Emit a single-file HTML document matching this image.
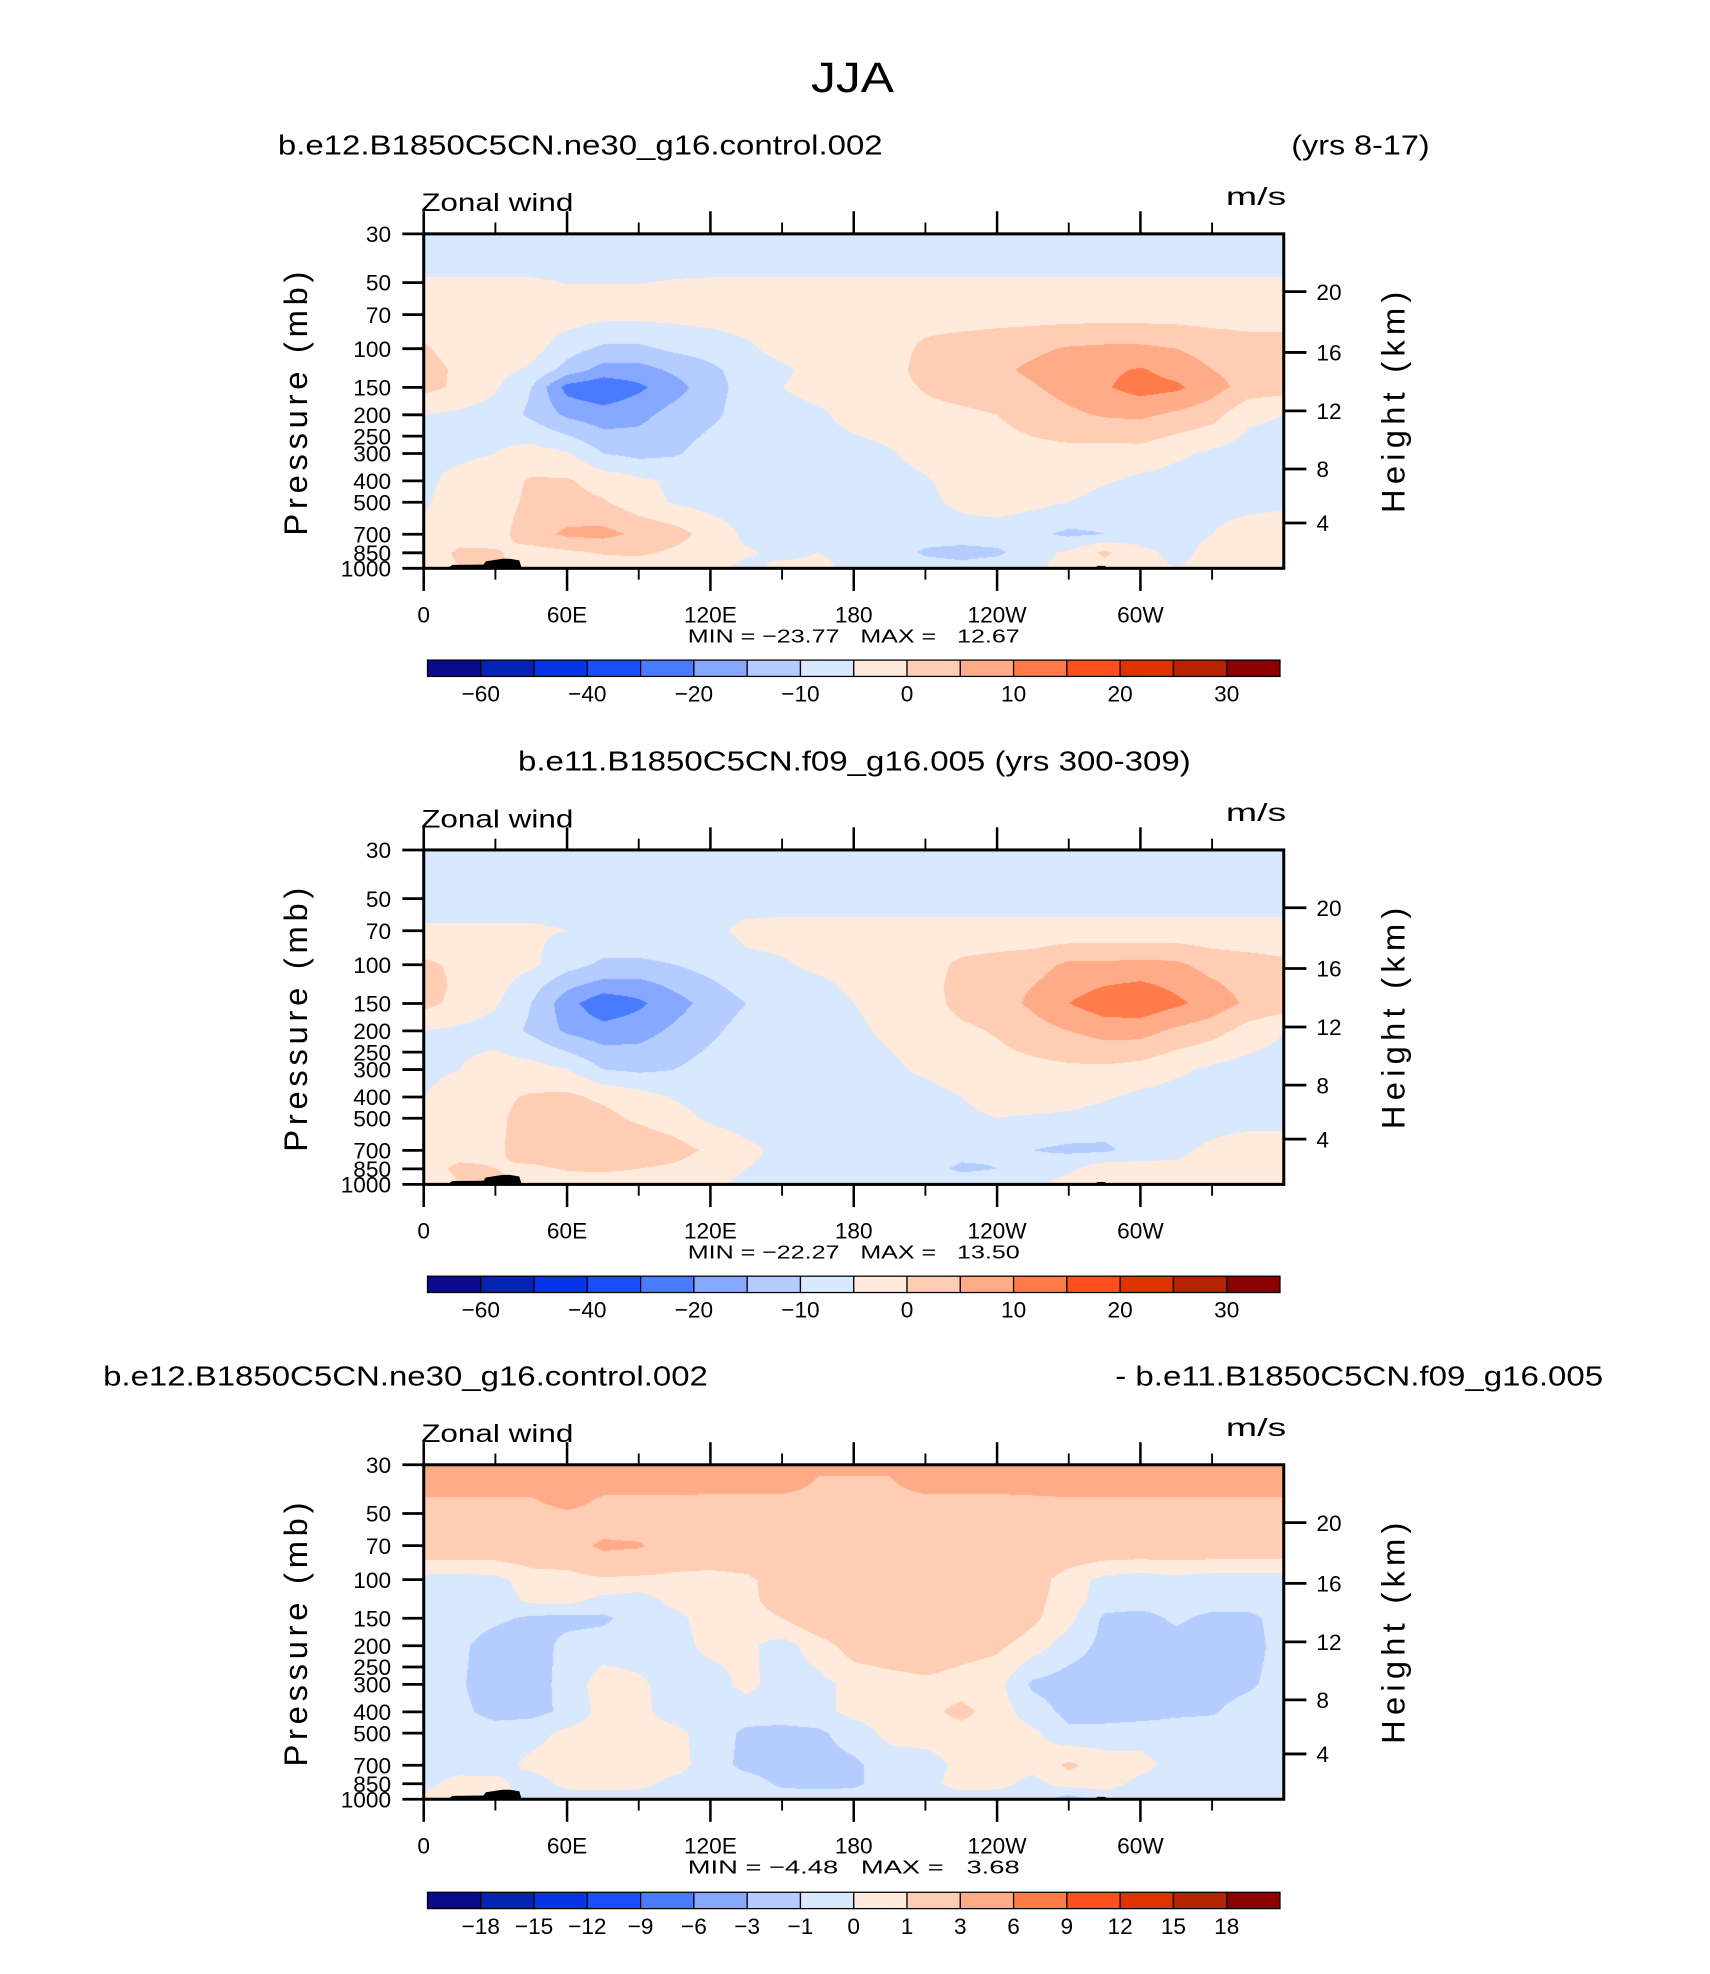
<!DOCTYPE html>
<html><head><meta charset="utf-8">
<style>
html,body{margin:0;padding:0;background:#fff;}
#root{position:relative;width:1710px;height:1974px;background:#fff;overflow:hidden;}
canvas{position:absolute;}
svg{position:absolute;left:0;top:0;}
text{font-family:"Liberation Sans",sans-serif;fill:#000;}
.tk{font-family:"Liberation Sans",sans-serif;font-size:18px;}
</style></head>
<body>
<div id="root">
<svg id="svg" width="1710" height="1974" viewBox="0 0 1360 1570" preserveAspectRatio="none">
<text x="678" y="73" text-anchor="middle" font-size="34" textLength="66" lengthAdjust="spacingAndGlyphs">JJA</text>
<text x="221" y="123" font-size="22" textLength="481" lengthAdjust="spacingAndGlyphs">b.e12.B1850C5CN.ne30_g16.control.002</text>
<text x="1027" y="123" font-size="22" textLength="110" lengthAdjust="spacingAndGlyphs">(yrs 8-17)</text>
<text x="412" y="613" font-size="22" textLength="535" lengthAdjust="spacingAndGlyphs">b.e11.B1850C5CN.f09_g16.005 (yrs 300-309)</text>
<text x="82" y="1102" font-size="22" textLength="481" lengthAdjust="spacingAndGlyphs">b.e12.B1850C5CN.ne30_g16.control.002</text>
<text x="887" y="1102" font-size="22" textLength="388" lengthAdjust="spacingAndGlyphs">- b.e11.B1850C5CN.f09_g16.005</text>
</svg>
</div>
<script>
// ---------- data ----------
const PLEV=[30,45,55,70,100,125,150,200,300,400,500,700,850,1000];
const LONS=[0,15,30,45,60,75,90,105,120,135,150,165,180,195,210,225,240,255,270,285,300,315,330,345,360];
const ctlWind=[
[-8,-8,-8,-8,-8,-8,-8,-8,-8,-8,-8,-8,-8,-8,-8,-8,-8,-8,-8,-8,-8,-8,-8,-8,-8],
[-6,-6,-6,-6,-6.5,-6.5,-6.5,-6,-6,-6,-6,-6,-6,-6,-6,-6,-6,-6,-6,-6,-6,-6,-6,-6,-6],
[-2,-2,-2,-2,-4,-4,-4,-3,-2,-2,-2,-2,-2,-2,-2,-2,-2,-2,-2,-2,-2,-2,-2,-2,-2],
[-2,-2,-2,-2,-2.5,-3.5,-3.5,-3.5,-3,-2.5,-2,-2,-2,-2,-2,-2,-2,-2,-2,-2,-2,-2,-2,-2,-2],
[0.5,-2,-2,-3,-8,-11,-11,-9,-8,-6,-3,-2,-2,-2,1,2,3,4,5.5,6,6,5,3,2,2],
[2,-1,-3,-6,-12,-17,-17,-14,-11,-8,-6,-3,-2,-2,2,3,4,6,8,9,10.5,8,5,3,3],
[1.5,-1,-4.5,-10,-22,-24,-21,-17,-12,-8,-5,-3,-2,-2,0.5,2,3,4.5,7,9.5,12,11,7,3,2],
[-5,-6,-7,-11,-16,-18,-16.5,-13,-11,-8,-7,-6,-3,-2,-1.5,-1,0,2,4,5.5,6,4,2,-4,-5],
[-6,-6,-5,-3,-4.5,-10,-11.5,-10.5,-8,-7,-7,-7,-7,-5.5,-3,-2,-2,-1.5,-1.5,-2,-2,-4,-6,-7,-7],
[-6,-3.5,-2,0.5,0.5,-2,-4,-6,-7,-7,-7,-7,-7,-7,-5.5,-3,-2,-2,-2.5,-4.5,-6,-7,-7,-7,-7],
[-5.5,-3,-2,1,1.5,0.5,-3,-5.5,-7,-7,-7,-7,-7,-7,-6,-4,-3,-3.5,-5,-7,-7,-7,-7,-7,-6],
[-4,-3,-2,3,6,6.5,4,2,-2,-6,-7,-7,-7,-7,-7,-7,-7,-9,-11,-10,-7,-6,-5,-2,-2],
[-3,1,0.5,-2,-1,0.5,1,-1,-3,-4.5,-6,-5,-6,-7,-11,-12,-11,-7,-4,1,-4,-6,-4,-2,-2],
[-3,0,1,-2,-3,-3,-3,-4,-4,-6,-4,-4,-6,-7,-7,-8,-7,-6,-3,-2,-4,-5,-4,-3,-3]];
const cmpWind=[
[-8,-8,-8,-8,-8,-8,-8,-8,-8,-8,-8,-8,-8,-8,-8,-8,-8,-8,-8,-8,-8,-8,-8,-8,-8],
[-7,-7,-7,-7,-7,-7,-7,-7,-7,-7,-7,-7,-7,-7,-7,-7,-7,-7,-7,-7,-7,-7,-7,-7,-7],
[-6,-6,-6,-6,-6,-6,-6,-6,-6,-6,-6,-6,-6,-6,-6,-6,-6,-6,-6,-6,-6,-6,-6,-6,-6],
[-4.5,-4.5,-4.5,-4.5,-5,-6,-6,-6,-6,-4,-3.5,-3.5,-3.5,-3.5,-3.5,-3.5,-3.5,-3.5,-3.5,-3.5,-3.5,-3.5,-3.5,-3.5,-3.5],
[1,-1,-2.5,-4,-8,-11,-11,-10,-8,-6,-5.5,-4,-4,-3,-2,1,2,3,6,6,6.5,6,3,2,1],
[2,-1,-3,-8,-14,-17,-17,-14,-11,-8,-7,-6,-4,-3,-2,2,3,5,8,10,11,9,6,3,2],
[1.5,-1.5,-4.5,-10,-18,-24,-21,-17,-13,-10,-8,-7,-5,-3,-2,1.5,3,6,10,13,13.5,11,8,4,3],
[-5,-6,-7,-11,-16,-18,-17,-14,-11,-8,-7,-7,-6,-4,-2,-1,0.5,3,5,7,7,4,2,-2,-5],
[-6,-5,-3,-3,-5,-10,-11,-10,-8,-7,-7,-7,-7,-6,-4,-2,-2,-1.5,-1,-1,-2,-4,-6,-7,-7],
[-5,-3,-1,0.5,1,-1,-3,-5.5,-7,-7,-7,-7,-7,-7,-7,-5,-3,-2.5,-3,-4.5,-6,-7,-7,-7,-7],
[-4,-2,-1,2,2.5,1.5,-1,-3,-6,-7,-7,-7,-7,-7,-7,-6,-5,-5.5,-6,-7,-7,-7,-7,-7,-7],
[-3,-2,-1,3,4.5,3,4,2,-1,-4,-6,-7,-7,-7,-7,-8,-9,-10,-11,-11,-8,-6,-4,-2,-2],
[-2,1,0,-1,0.5,1,0,-1,-3,-5,-6,-7,-7,-7,-8,-11,-10,-8,-6,-2,-3,-4,-3,-2,-2],
[-3,0,1,-2,-3,-3,-3,-3,-4,-6,-5,-5,-6,-7,-7,-7,-7,-6,-3,-1,-3,-4,-4,-3,-3]];
const diffWind=[
[4.5,4.5,4.5,4.5,4.5,4.5,4.5,4.5,4.5,4.5,4.5,3.2,3.2,3.2,4.5,4.5,4.5,4.5,4.5,4.5,4.5,4.5,4.5,4.5,4.5],
[2.7,2.7,2.7,2.7,3.5,2.6,2.6,2.6,2.5,2.5,2.5,2.5,2.5,2.5,2.5,2.5,2.5,2.6,2.7,2.7,2.7,2.7,2.7,2.7,2.7],
[2,2,2,2,2,2,2,2,2,2,2,2,2,2,2,2,2,2,2,2,2,2,2,2,2],
[2,2,2,2,2,3.4,3.2,2,2,2,2,2,2,2,2,2,2,2,2,2,2,2,2,2,2],
[-0.4,-0.4,-0.3,0.5,0.6,0.8,0.7,0.7,0.6,0.8,1.5,2,2,2,2,2,2,1.5,0.5,-0.3,-0.5,-0.3,-0.5,-0.5,-0.5],
[-0.5,-0.5,-0.5,0.2,0.3,-0.3,-0.5,0.3,0.5,0.7,1.5,2,2,2,2,2,2,1.3,0.5,-0.5,-0.5,-0.5,-0.5,-0.5,-0.5],
[-0.5,-0.5,-0.8,-1.2,-1.3,-1.2,-0.5,-0.3,0.5,0.5,1,2,2,2,2,2,2,1.2,0.3,-1.2,-1.4,-0.8,-1.3,-1.3,-0.5],
[-0.3,-0.8,-1.5,-1.5,-0.7,-0.5,-0.5,-0.4,0.3,0.2,-0.4,0.5,1.5,1.8,2,1.5,1.2,0.5,-0.5,-1.3,-1.5,-1.5,-1.6,-1.5,-0.5],
[-0.5,-0.9,-1.5,-1.5,-0.6,0.5,0.2,-0.5,-0.5,0.3,-0.5,-0.3,0.3,0.5,0.7,0.5,0.3,-1.2,-1.5,-1.5,-1.5,-1.5,-1.5,-1.2,-0.5],
[-0.5,-0.8,-1.3,-1.3,-0.8,0.4,0.3,-0.5,-0.5,-0.5,-0.5,-0.3,0.3,0.5,0.7,1.3,0.5,-0.5,-1.3,-1.5,-1.4,-1.2,-1.1,-0.5,-0.5],
[-0.5,-0.5,-0.6,-0.4,0.3,0.5,0.5,0.3,-0.5,-1.2,-1.3,-1.2,-0.5,0.3,0.5,0.6,0.5,0.2,-0.8,-0.6,-0.5,-0.5,-0.5,-0.5,-0.5],
[-0.5,-0.5,-0.5,0.3,0.5,0.5,0.5,0.4,-0.5,-1.3,-1.5,-1.4,-1.2,-0.5,-0.5,0.3,0.5,0.3,1.2,0.5,0.4,-0.5,-0.5,-0.5,-0.5],
[-0.3,0.4,0.3,-0.5,0.3,0.4,0.3,-0.3,-0.5,-0.5,-1.2,-1.3,-1.2,-0.5,-0.3,0.4,0.3,-0.3,0.5,0.4,-0.3,-0.5,-0.5,-0.5,-0.5],
[0.3,0.5,0.5,-0.5,-0.5,-0.5,-0.5,-0.5,-0.5,-0.5,-0.5,-0.5,-0.5,-0.5,-0.5,-0.5,-0.5,-0.5,-1.5,-0.5,-0.5,-0.5,-0.5,-0.5,-0.5]];
const levelsAbs=[-60,-50,-40,-30,-20,-15,-10,-5,0,5,10,15,20,25,30];
const levelsDiff=[-18,-15,-12,-9,-6,-3,-1,0,1,3,6,9,12,15,18];
const cbLabelsAbs=["\u221260","","\u221240","","\u221220","","\u221210","","0","","10","","20","","30"];
const cbLabelsDiff=["\u221218","\u221215","\u221212","\u22129","\u22126","\u22123","\u22121","0","1","3","6","9","12","15","18"];
const fillColors=['#0a0a8a','#0524b4','#0535e6','#1a4cff','#4a7bff','#86a8ff','#b4ccff','#d7e8ff','#ffeadb','#ffcdb4','#ffab87','#ff7b4a','#ff4f1e','#e03200','#b52400','#8b0000'];
const pTicks=[30,50,70,100,150,200,250,300,400,500,700,850,1000];
const heightKm=[4,8,12,16,20];
const heightP=[622,353,192,104,55];
const lonTicks=[0,60,120,180,240,300];
const lonLabels=["0","60E","120E","180","120W","60W"];
const lonMinor=[30,90,150,210,270,330];
const topoLonA=[10,12,25,26,33,36,40,41];
const topoPA=[1000,965,962,930,905,905,920,1000];
const topoLonB=[281,282,285,286,310,311];
const topoPB=[1000,975,975,990,990,1000];
const minVals=["\u221223.77","\u221222.27","\u22124.48"];
const maxVals=["12.67","13.50","3.68"];
// ---------- layout ----------
const S=1710/1360, X0=337, X1=1021, PH=266;
const KP=PH/Math.log(1000/30);
const panelTops=[186,676,1165];
const cbTops=[525,1015,1505];
function xOf(lon){return X0+lon/360*(X1-X0);}
function yOf(p,top){return top+KP*Math.log(p/30);}
const NS='http://www.w3.org/2000/svg';
const svg=document.getElementById('svg');
const root=document.getElementById('root');
function mk(tag,attrs){const e=document.createElementNS(NS,tag);for(const k in attrs)e.setAttribute(k,attrs[k]);svg.appendChild(e);return e;}
function idx(v,thr){let k=0;while(k<thr.length&&v>=thr[k])k++;return k;}
const lnP=PLEV.map(p=>Math.log(p));
function hex(c){return [parseInt(c.substr(1,2),16),parseInt(c.substr(3,2),16),parseInt(c.substr(5,2),16)];}
const rgb=fillColors.map(hex);

function drawField(field,thr,top,pi){
  const cv=document.createElement('canvas');
  
  
  const W=Math.round((X1-X0)*S), H=Math.round(PH*S);
  cv.width=W;cv.height=H;
  cv.style.left=(X0*S)+'px';cv.style.top=(top*S)+'px';
  cv.style.width=W+'px';cv.style.height=H+'px';
  root.insertBefore(cv,svg);
  const ctx=cv.getContext('2d');
  const img=ctx.createImageData(W,H);
  const nL=LONS.length;
  for(let py=0;py<H;py++){
    const lp=lnP[0]+(py+0.5)/H*(lnP[lnP.length-1]-lnP[0]);
    let i=0;while(i<lnP.length-2&&lp>lnP[i+1])i++;
    const t=(lp-lnP[i])/(lnP[i+1]-lnP[i]);
    const r0=field[i],r1=field[i+1];
    for(let px=0;px<W;px++){
      const lon=(px+0.5)/W*360;
      let j=Math.floor(lon/15);if(j>nL-2)j=nL-2;
      const u=(lon-LONS[j])/(LONS[j+1]-LONS[j]);
      const v=(1-t)*((1-u)*r0[j]+u*r0[j+1])+t*((1-u)*r1[j]+u*r1[j+1]);
      const c=rgb[idx(v,thr)];
      const o=(py*W+px)*4;
      img.data[o]=c[0];img.data[o+1]=c[1];img.data[o+2]=c[2];img.data[o+3]=255;
    }
  }
  ctx.putImageData(img,0,0);
}

function topo(lons,ps,top,name){
  const pts=lons.map((l,i)=>xOf(l)+','+yOf(ps[i],top)).join(' ');
  const e=mk('polygon',{points:pts,fill:'#000'});
  
  
}

function axes(top,pi){
  const bot=top+PH;
  const fr=mk('rect',{x:X0,y:top,width:X1-X0,height:PH,fill:'none',stroke:'#000','stroke-width':2.4});
  
  
  pTicks.forEach(p=>{
    const y=yOf(p,top);
    const l=mk('line',{x1:X0-17,y1:y,x2:X0,y2:y,stroke:'#000','stroke-width':2.2});
    
    
    const t=mk('text',{x:X0-26,y:y+6.5,'text-anchor':'end','class':'tk'});
    t.textContent=String(p);
    
    
  });
  heightKm.forEach((h,i)=>{
    const y=yOf(heightP[i],top);
    const l=mk('line',{x1:X1,y1:y,x2:X1+18,y2:y,stroke:'#000','stroke-width':2.2});
    
    
    const t=mk('text',{x:X1+26,y:y+6.5,'class':'tk'});
    t.textContent=String(h);
    
    
  });
  lonTicks.forEach((lon,i)=>{
    const x=xOf(lon);
    const a=mk('line',{x1:x,y1:top-18,x2:x,y2:top,stroke:'#000','stroke-width':2});
    
    
    const b=mk('line',{x1:x,y1:bot,x2:x,y2:bot+18,stroke:'#000','stroke-width':2});
    
    
    const t=mk('text',{x:x,y:bot+43,'text-anchor':'middle','class':'tk'});
    t.textContent=lonLabels[i];
    
    
  });
  lonMinor.forEach(lon=>{
    const x=xOf(lon);
    const a=mk('line',{x1:x,y1:top-9,x2:x,y2:top,stroke:'#000','stroke-width':1.5});
    
    
    const b=mk('line',{x1:x,y1:bot,x2:x,y2:bot+9,stroke:'#000','stroke-width':1.5});
    
    
  });
  const zw=mk('text',{x:X0-2,y:top-18,'font-size':20,textLength:121,lengthAdjust:'spacingAndGlyphs'});
  zw.textContent='Zonal wind';
  
  
  const un=mk('text',{x:975,y:top-23,'font-size':20,textLength:48,lengthAdjust:'spacingAndGlyphs'});
  un.textContent='m/s';
  
  
  const cy=top+135;
  const yt=mk('text',{x:0,y:0,'font-size':26,'text-anchor':'middle',textLength:210,lengthAdjust:'spacing',transform:'translate(244,'+cy+') rotate(-90)'});
  yt.textContent='Pressure (mb)';
  
  
  const ht=mk('text',{x:0,y:0,'font-size':26,'text-anchor':'middle',textLength:176,lengthAdjust:'spacing',transform:'translate(1117,'+(top+134)+') rotate(-90)'});
  ht.textContent='Height (km)';
  
  
  const mm=mk('text',{x:547,y:bot+59,'font-size':15,textLength:264,lengthAdjust:'spacingAndGlyphs'});
  mm.textContent='MIN = '+minVals[pi]+'   MAX =   '+maxVals[pi];
  mm.style.whiteSpace='pre';
  
  
}

function colorbar(cbTop,thr,labels,pi){
  const L=340,R=1018,n=fillColors.length,w=(R-L)/n;
  fillColors.forEach((c,k)=>{
    const r=mk('rect',{x:L+k*w,y:cbTop,width:w,height:13,fill:c,stroke:'#000','stroke-width':1});
    
    
  });
  labels.forEach((lb,k)=>{
    if(!lb)return;
    const t=mk('text',{x:L+(k+1)*w,y:cbTop+33,'text-anchor':'middle','class':'tk'});
    t.textContent=lb;
    
    
  });
}

const fields=[ctlWind,cmpWind,diffWind];
const thrs=[levelsAbs,levelsAbs,levelsDiff];
const cbl=[cbLabelsAbs,cbLabelsAbs,cbLabelsDiff];
for(let pi=0;pi<3;pi++){
  const top=panelTops[pi];
  drawField(fields[pi],thrs[pi],top,pi);
  topo(topoLonA,topoPA,top,'topography-africa');
  topo(topoLonB,topoPB,top,'topography-andes');
  axes(top,pi);
  colorbar(cbTops[pi],thrs[pi],cbl[pi],pi);
}
</script>
</body></html>
